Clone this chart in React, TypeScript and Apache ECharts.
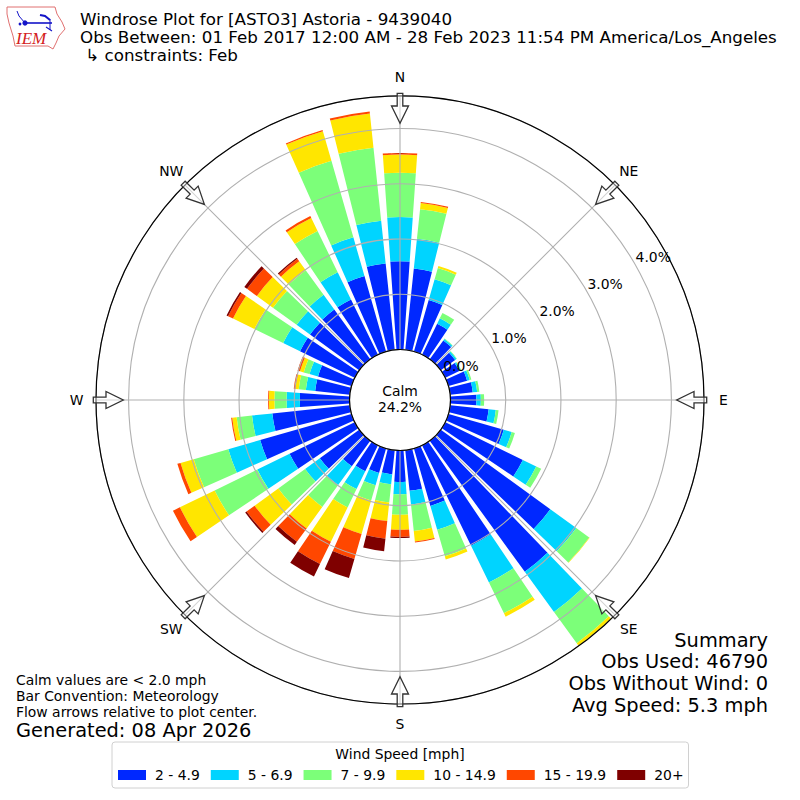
import React, { useEffect, useRef } from "react";
import * as echarts from "echarts";

const directions = Array.from({ length: 36 }, (_, i) => String(i * 10));
const compassLabels = ["N", "NE", "E", "SE", "S", "SW", "W", "NW"];
const speedLabels = ["2 - 4.9", "5 - 6.9", "7 - 9.9", "10 - 14.9", "15 - 19.9", "20+"];
const speedColors = ["#0028ff", "#00d4ff", "#7cff79", "#ffe600", "#ff4700", "#7f0000"];

const speed2to5 = [1.6, 1.48, 0.97, 0.62, 0.42, 0.32, 0.28, 0.35, 0.41, 0.47, 0.7, 1.04, 1.56, 2.45, 2.93, 2.02, 1.08, 0.74, 0.57, 0.44, 0.46, 0.52, 0.57, 0.88, 1.31, 1.72, 1.41, 0.9, 0.63, 0.63, 1.1, 1.1, 1.11, 1.11, 1.42, 1.57];
const speed5to7 = [0.8, 0.54, 0.39, 0.11, 0.03, 0.03, 0.03, 0.05, 0.08, 0.08, 0.13, 0.15, 0.27, 0.58, 0.9, 0.74, 0.45, 0.25, 0.22, 0.18, 0.23, 0.36, 0.42, 0.33, 0.65, 0.6, 0.37, 0.24, 0.17, 0.16, 0.34, 0.3, 0.33, 0.55, 0.73, 0.78];
const speed7to10 = [0.8, 0.54, 0.21, 0.11, 0.01, 0.01, 0.01, 0.03, 0.04, 0.06, 0.05, 0.06, 0.1, 0.29, 0.7, 0.62, 0.5, 0.48, 0.375, 0.33, 0.29, 0.37, 0.49, 0.6, 0.86, 0.65, 0.28, 0.22, 0.13, 0.11, 0.58, 0.53, 0.55, 0.83, 1.44, 1.33];
const speed10to15 = [0.33, 0.11, 0.04, 0, 0, 0, 0, 0, 0, 0, 0, 0, 0, 0.01, 0.06, 0.07, 0.06, 0.19, 0.27, 0.34, 0.63, 0.69, 0.48, 0.53, 0.7, 0.25, 0.08, 0.1, 0.06, 0.07, 0.43, 0.36, 0.2, 0.26, 0.56, 0.62];
const speed15to20 = [0.03, 0.02, 0, 0, 0, 0, 0, 0, 0, 0, 0, 0, 0, 0, 0, 0, 0, 0.02, 0.13, 0.32, 0.47, 0.45, 0.3, 0.18, 0.14, 0.06, 0.02, 0.015, 0.03, 0.045, 0.1, 0.22, 0.055, 0.04, 0.02, 0.04];
const speed20plus = [0, 0, 0, 0, 0, 0, 0, 0, 0, 0, 0, 0, 0, 0, 0, 0, 0, 0, 0.02, 0.23, 0.36, 0.25, 0.07, 0.03, 0, 0, 0, 0, 0, 0, 0.03, 0.06, 0.025, 0, 0, 0];
const speedValues = [speed2to5, speed5to7, speed7to10, speed10to15, speed15to20, speed20plus];

const titleLines = [
  "Windrose Plot for [ASTO3] Astoria - 9439040",
  "Obs Between: 01 Feb 2017 12:00 AM - 28 Feb 2023 11:54 PM America/Los_Angeles",
  " ↳ constraints: Feb",
];
const summaryLines = ["Summary", "Obs Used: 46790", "Obs Without Wind: 0", "Avg Speed: 5.3 mph"];
const noteLines = ["Calm values are < 2.0 mph", "Bar Convention: Meteorology", "Flow arrows relative to plot center."];

const FONT = "DejaVu Sans";
const CX = 400;
const CY = 400;
const R0 = 50.5;
const R1 = 304;
const MAX_PCT = 4.59;

function txt(text: string, x: number, y: number, size: number, align = "left", extra: any = {}) {
  return {
    type: "text",
    z: 20,
    silent: true,
    style: { text, x, y, fontSize: size, fontFamily: FONT, fill: "#000", align, verticalAlign: "middle", ...extra },
  };
}

function compassLabel(label: string, i: number) {
  const a = (i * 45 * Math.PI) / 180;
  const r = 323.5;
  return txt(label, CX + r * Math.sin(a), CY - r * Math.cos(a), 13.9, "center");
}

function arrow(deg: number) {
  return {
    type: "group",
    x: CX,
    y: CY,
    rotation: (-deg * Math.PI) / 180,
    z: 15,
    silent: true,
    children: [
      {
        type: "polygon",
        z: 15,
        shape: {
          points: [
            [-2.8, -306.7],
            [2.8, -306.7],
            [2.8, -294],
            [8.5, -294],
            [0, -276.7],
            [-8.5, -294],
            [-2.8, -294],
          ],
        },
        style: { fill: "rgba(255,255,255,0.45)", stroke: "#333", lineWidth: 1.3 },
      },
    ],
  };
}

function logo() {
  const red = "#e07070";
  const blue = "#1414c8";
  const line = (points: number[][], stroke: string, lineWidth: number) => ({
    type: "polyline",
    z: 20,
    silent: true,
    shape: { points },
    style: { stroke, lineWidth, fill: "none" },
  });
  return [
    {
      type: "polygon",
      z: 20,
      silent: true,
      shape: {
        points: [[7, 7], [55, 7], [57, 14], [62, 22], [65, 29], [59, 36], [56, 43], [53, 49], [48, 46], [15, 46], [13, 36], [9, 23], [7, 14]],
      },
      style: { fill: "#fff", stroke: red, lineWidth: 1 },
    },
    line([[25, 23], [52, 23]], blue, 1.6),
    line([[17, 11], [19, 16], [25, 23]], blue, 1),
    line([[40, 15], [45, 16], [50, 20]], blue, 2),
    line([[50, 19], [50, 30]], blue, 1),
    line([[46, 27], [52, 31]], blue, 1.2),
    { type: "circle", z: 20, silent: true, shape: { cx: 25, cy: 23, r: 2.6 }, style: { fill: blue } },
    { type: "circle", z: 20, silent: true, shape: { cx: 20, cy: 24, r: 1.4 }, style: { fill: blue } },
    txt("IEM", 16, 38, 17, "left", { fontFamily: "Liberation Serif", fontStyle: "italic", fill: "#d42020" }),
  ];
}

export default function App() {
  const ref = useRef<HTMLDivElement>(null);
  useEffect(() => {
    if (!ref.current) return;
    const chart = echarts.init(ref.current, null, { renderer: "svg" });
    const center = [CX, CY];
    chart.setOption({
      animation: false,
      backgroundColor: "#fff",
      polar: [
        { center, radius: [R0, R1] },
        { center, radius: [R0, R1] },
        { center, radius: [R0 + 19.5, R1 + 19.5] },
      ],
      angleAxis: [
        {
          polarIndex: 0,
          type: "category",
          data: directions,
          boundaryGap: true,
          startAngle: 95,
          clockwise: true,
          axisLine: { show: false },
          axisTick: { show: false },
          axisLabel: { show: false },
          splitLine: { show: false },
        },
        {
          polarIndex: 1,
          type: "value",
          min: 0,
          max: 360,
          interval: 45,
          startAngle: 90,
          clockwise: true,
          z: 6,
          axisLine: { show: true, lineStyle: { color: "#000", width: 1.2 } },
          axisTick: { show: false },
          axisLabel: { show: false },
          splitLine: { show: true, lineStyle: { color: "#b0b0b0", width: 1.1 } },
          minorTick: { show: false },
        },
        {
          polarIndex: 2,
          type: "value",
          min: 0,
          max: 360,
          startAngle: 29.5,
          axisLine: { show: false },
          axisTick: { show: false },
          axisLabel: { show: false },
          splitLine: { show: false },
        },
      ],
      radiusAxis: [
        {
          polarIndex: 0,
          type: "value",
          min: 0,
          max: MAX_PCT,
          axisLine: { show: false },
          axisTick: { show: false },
          axisLabel: { show: false },
          splitLine: { show: false },
        },
        {
          polarIndex: 1,
          type: "value",
          min: 0,
          max: MAX_PCT,
          interval: 1,
          z: 5,
          axisLine: { show: false },
          axisTick: { show: false },
          axisLabel: { show: false },
          splitLine: { show: true, lineStyle: { color: "#b0b0b0", width: 1.1 } },
        },
        {
          polarIndex: 2,
          type: "value",
          min: 0,
          max: MAX_PCT,
          interval: 1,
          z: 7,
          axisLine: { show: false },
          axisTick: { show: false },
          splitLine: { show: false },
          axisLabel: {
            show: true,
            margin: 0,
            showMaxLabel: false,
            align: "center",
            verticalAlign: "middle",
            fontSize: 13.9,
            fontFamily: FONT,
            color: "#000",
            formatter: (v: number) => `${v.toFixed(1)}%`,
          },
        },
      ],
      legend: {
        left: 112,
        top: 742,
        orient: "horizontal",
        data: speedLabels,
        selectedMode: false,
        icon: "rect",
        itemWidth: 28,
        itemHeight: 10,
        itemGap: 11,
        padding: [26, 5, 6, 6],
        borderColor: "#d0d0d0",
        borderWidth: 1,
        borderRadius: 3,
        textStyle: { fontSize: 13.9, fontFamily: FONT, color: "#000", padding: [0, 0, 0, 4] },
      },
      series: speedValues.map((values, i) => ({
        type: "bar",
        name: speedLabels[i],
        coordinateSystem: "polar",
        polarIndex: 0,
        stack: "wind",
        barWidth: "80%",
        data: values,
        clip: false,
        itemStyle: { color: speedColors[i] },
        z: 2,
      })),
      graphic: {
        elements: [
          ...logo(),
          ...compassLabels.map((_, i) => arrow(i * 45)),
          ...compassLabels.map(compassLabel),
          ...titleLines.map((t, i) => txt(t, 80, 19 + i * 17.8, 16.72)),
          txt("Calm", 400, 391, 13.9, "center"),
          txt("24.2%", 400, 407, 13.9, "center"),
          ...summaryLines.map((t, i) => txt(t, 768, 640 + i * 21.7, 19.4, "right")),
          ...noteLines.map((t, i) => txt(t, 16, 680 + i * 16, 13.9)),
          txt("Generated: 08 Apr 2026", 16, 730, 19.4),
          txt("Wind Speed [mph]", 400, 753.5, 13.9, "center"),
        ],
      },
    });
    return () => chart.dispose();
  }, []);
  return <div ref={ref} style={{ position: "absolute", left: 0, top: 0, width: 800, height: 800 }} />;
}
